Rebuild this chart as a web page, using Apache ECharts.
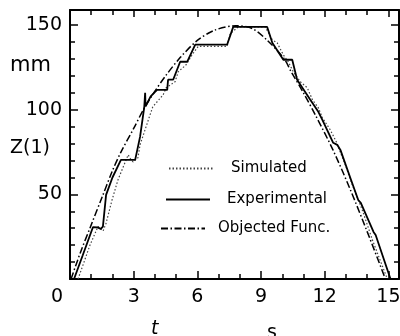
<!DOCTYPE html>
<html>
<head>
<meta charset="utf-8">
<script src="https://cdn.jsdelivr.net/npm/echarts@6/dist/echarts.min.js"></script>
<style>
	html, body { margin: 0; padding: 0; background: #fff; }
	#chart_1 { width: 400px; height: 336px; }
</style>
</head>
<body>
<div id="chart_1"></div>
<script>
// Simulated (dotted)
var simT = [0.38, 0.94, 1.32, 1.45, 1.56, 1.7, 1.98, 2.26, 2.74, 2.85, 2.97, 3.2, 3.3, 3.77, 3.9, 4.39, 4.53, 4.95, 5.1, 5.47, 5.75, 6.04, 7.4, 7.55, 7.92, 9.2, 9.53, 9.76, 10.05, 10.28, 10.52, 10.85, 11.18, 11.42, 11.7, 11.89, 12.26, 12.55, 12.97, 13.3, 13.77, 14.25, 14.95];
var simZ = [0, 20, 31, 29.5, 28.4, 33, 46.7, 58.6, 73.4, 71, 69.2, 71.6, 79.3, 97, 101.8, 108.9, 113, 116.6, 122.5, 126.6, 132.5, 137.5, 137.5, 145, 149, 149, 141.4, 139.6, 132.5, 128.4, 122.5, 116.6, 113, 106, 101.2, 95.3, 88.2, 81, 67.5, 55.6, 40.8, 23, 0];
// Experimental (solid)
var expT = [0.19, 0.6, 1.08, 1.3, 1.45, 1.55, 1.7, 2.0, 2.4, 3.07, 3.3, 3.5, 3.54, 3.56, 3.8, 4.1, 4.58, 4.62, 4.86, 5.19, 5.52, 5.9, 7.4, 7.69, 9.29, 9.53, 10.05, 10.47, 10.7, 11.32, 11.7, 11.89, 12.4, 12.59, 12.74, 13.2, 13.58, 13.7, 14.3, 14.4, 15.1];
var expZ = [0, 14, 30.6, 30.5, 29.6, 31, 49.7, 60, 70.4, 70.4, 84, 101.8, 110, 102, 108, 111.8, 111.8, 117.8, 117.8, 128.4, 128.4, 138.5, 138.5, 149, 149, 139.6, 129.6, 129.6, 117.8, 106, 98.8, 94, 80.5, 79.3, 76.3, 60, 46.7, 45, 27.8, 26, 0];
// Objected Func. (dash-dot)
var objT = [0.05, 0.5, 1.0, 1.5, 2.0, 2.4, 3.0, 3.5, 4.0, 4.5, 5.2, 6.0, 6.8, 7.8, 8.6, 9.3, 10.1, 10.4, 11.0, 11.6, 12.4, 13.2, 14.0, 14.86];
var objZ = [0, 16, 32, 48, 64, 75, 89, 101, 111, 120, 131, 141, 147, 149.7, 148, 141, 130, 123, 110, 96, 76, 53, 28, 0];

var xMajor = [0, 3, 6, 9, 12, 15];
var xMinor = [1, 2, 4, 5, 7, 8, 10, 11, 13, 14];
var yMajor = [50, 100, 150];
var yMinor = [10, 20, 30, 40, 60, 70, 80, 90, 110, 120, 130, 140];

function pairs(t, z) {
	var out = [];
	for (var i = 0; i < t.length; i++) out.push([t[i], z[i]]);
	return out;
}

var FONT = 'DejaVu Sans';
var myChart = echarts.init(document.getElementById('chart_1'));

function xAx(pos, ticks, len, line, labels) {
	return {
		type: 'value', position: pos, min: 0, max: 15.5,
		axisLine: { show: line, onZero: false, lineStyle: { color: '#000', width: 2 } },
		axisTick: { show: true, inside: true, length: len, customValues: ticks, lineStyle: { color: '#000', width: 1.5 } },
		axisLabel: labels ? {
			customValues: xMajor, margin: 9, color: '#000', fontSize: 19, fontFamily: FONT,
			formatter: function(v) { return v === 0 ? '{z|0}' : String(v); },
			rich: { z: { padding: [0, 26, 0, 0], fontSize: 19, fontFamily: FONT, color: '#000' } }
		} : { show: false },
		splitLine: { show: false }
	};
}
function yAx(pos, ticks, len, line, labels) {
	return {
		type: 'value', position: pos, min: 0, max: 159,
		axisLine: { show: line, onZero: false, lineStyle: { color: '#000', width: 2 } },
		axisTick: { show: true, inside: true, length: len, customValues: ticks, lineStyle: { color: '#000', width: 1.5 } },
		axisLabel: labels ? {
			customValues: yMajor, margin: 8, color: '#000', fontSize: 19, fontFamily: FONT
		} : { show: false },
		splitLine: { show: false }
	};
}

function legendAt(name, left, top, pad) {
	return {
		data: [name], left: left, top: top, orient: 'vertical',
		itemWidth: 44, itemHeight: 14, selectedMode: false,
		itemStyle: { opacity: 0 },
		textStyle: { color: '#000', fontSize: 15, fontFamily: FONT, padding: [0, 0, 0, pad] }
	};
}

var option = {
	animation: false,
	backgroundColor: '#fff',
	color: ['#000', '#000', '#000'],
	grid: { left: 70, right: 1, top: 10, bottom: 57, outerBoundsMode: 'none' },
	legend: [
		legendAt('Simulated', 163, 156, 13),
		legendAt('Experimental', 160, 187, 12),
		legendAt('Objected Func.', 155, 216, 8)
	],
	xAxis: [
		xAx('bottom', xMajor, 8, true, true),
		xAx('bottom', xMinor, 5, false, false),
		xAx('top', xMajor, 7, true, false),
		xAx('top', xMinor, 5, false, false)
	],
	yAxis: [
		yAx('left', yMajor, 8, true, true),
		yAx('left', yMinor, 5, false, false),
		yAx('right', yMajor, 8, true, false),
		yAx('right', yMinor, 5, false, false)
	],
	graphic: [
		{ type: 'text', left: 10, top: 55, style: { text: 'mm', fontSize: 21, fontFamily: FONT, fill: '#000' } },
		{ type: 'text', left: 10, top: 139, style: { text: 'Z(1)', fontSize: 19, fontFamily: FONT, fill: '#000' } },
		{ type: 'text', left: 151, top: 320, style: { text: 't', fontSize: 19, fontStyle: 'italic', fontFamily: FONT, fill: '#000' } },
		{ type: 'text', left: 267, top: 324, style: { text: 's', fontSize: 19, fontFamily: FONT, fill: '#000' } }
	],
	series: [{
		name: 'Simulated', type: 'line', symbol: 'none', showSymbol: false,
		xAxisIndex: 0, yAxisIndex: 0,
		itemStyle: { color: '#444' },
		lineStyle: { color: '#444', width: 1.2, type: [1.5, 2] },
		data: pairs(simT, simZ)
	}, {
		name: 'Experimental', type: 'line', symbol: 'none', showSymbol: false,
		xAxisIndex: 0, yAxisIndex: 0,
		itemStyle: { color: '#000' },
		lineStyle: { color: '#000', width: 1.8, type: 'solid' },
		data: pairs(expT, expZ)
	}, {
		name: 'Objected Func.', type: 'line', symbol: 'none', showSymbol: false,
		xAxisIndex: 0, yAxisIndex: 0, smooth: 0.3,
		itemStyle: { color: '#000' },
		lineStyle: { color: '#000', width: 1.5, type: [7, 2.5, 1.5, 2.5] },
		data: pairs(objT, objZ)
	}]
};
myChart.setOption(option);
</script>
</body>
</html>
